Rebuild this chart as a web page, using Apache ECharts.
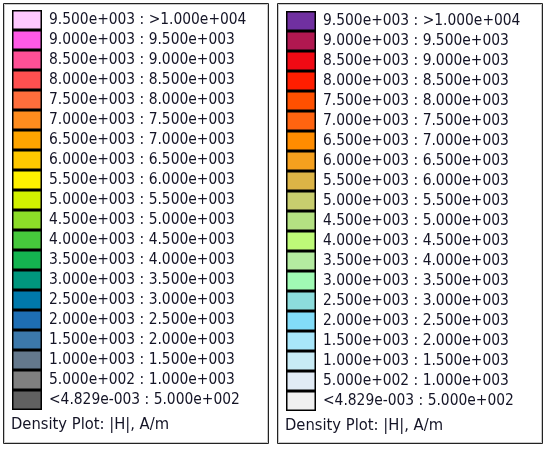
<!DOCTYPE html>
<html>
<head>
<meta charset="utf-8">
<script src="https://cdn.jsdelivr.net/npm/echarts@6/dist/echarts.min.js"></script>
<style>
html,body{margin:0;padding:0;background:#fff;}
#c{width:548px;height:452px;}
</style>
</head>
<body>
<div id="c"></div>
<script>
// Legend class bounds (top to bottom)
var lowerBounds = ['9.500e+003','9.000e+003','8.500e+003','8.000e+003','7.500e+003','7.000e+003','6.500e+003','6.000e+003','5.500e+003','5.000e+003','4.500e+003','4.000e+003','3.500e+003','3.000e+003','2.500e+003','2.000e+003','1.500e+003','1.000e+003','5.000e+002','<4.829e-003'];
var upperBounds = ['>1.000e+004','9.500e+003','9.000e+003','8.500e+003','8.000e+003','7.500e+003','7.000e+003','6.500e+003','6.000e+003','5.500e+003','5.000e+003','4.500e+003','4.000e+003','3.500e+003','3.000e+003','2.500e+003','2.000e+003','1.500e+003','1.000e+003','5.000e+002'];
var swatchValues = [1,1,1,1,1,1,1,1,1,1,1,1,1,1,1,1,1,1,1,1];
var leftColors = ['#FFC8FF','#FF5AE6','#FF5096','#FF5050','#FF6E3C','#FF8C1E','#FFA500','#FFC800','#FFF000','#D2F000','#8CDC28','#46C83C','#14B450','#00967D','#0078AA','#1E6EB4','#3C78AA','#64788C','#808080','#606060'];
var rightColors = ['#7030A0','#B01850','#F00A14','#FF1E00','#FF5000','#FF6410','#FF8C00','#F5A01E','#DCB446','#C8CD6E','#B4E182','#BEFA78','#B4EBA0','#A0FAB4','#8CDCDC','#82DCF8','#A8E6FA','#C8EBF5','#E1EBF5','#F0F0F0'];
var titleText = 'Density Plot: |H|, A/m';

var labels = lowerBounds.map(function(l,i){ return l + ' : ' + upperBounds[i]; });
var FONT = 'DejaVu Sans Condensed';
var TXT = '#141426';

function panel(idx, colors){
  return {
    type:'bar', xAxisIndex:idx, yAxisIndex:idx,
    barWidth:'100%', silent:true, animation:false,
    data: swatchValues.map(function(v,i){
      return {value:v, itemStyle:{color:colors[i], borderColor:'#000', borderWidth:1.5}};
    })
  };
}
function yAx(idx){
  return {
    type:'category', gridIndex:idx, data:labels, inverse:true, position:'right',
    axisLine:{show:false}, axisTick:{show:false}, splitLine:{show:false},
    axisLabel:{margin:7, align:'left', fontFamily:FONT, fontSize:15.4, color:TXT, interval:0}
  };
}
function xAx(idx){
  return {type:'value', gridIndex:idx, min:0, max:1, show:false};
}

var chart = echarts.init(document.getElementById('c'), null, {renderer:'canvas'});
chart.setOption({
  backgroundColor:'#fff',
  animation:false,
  grid:[
    {left:12, top:10, width:30, height:400},
    {left:286, top:11, width:30, height:400}
  ],
  xAxis:[xAx(0), xAx(1)],
  yAxis:[yAx(0), yAx(1)],
  title:[
    {text:titleText, left:11, top:417, padding:0, textStyle:{fontFamily:FONT, fontSize:16.4, fontWeight:'normal', color:TXT}},
    {text:titleText, left:285, top:418, padding:0, textStyle:{fontFamily:FONT, fontSize:16.4, fontWeight:'normal', color:TXT}}
  ],
  graphic:[
    {type:'rect', shape:{x:3.5, y:3.5, width:265, height:440}, style:{fill:null, stroke:'#222', lineWidth:1}, silent:true},
    {type:'rect', shape:{x:4.5, y:4.5, width:263, height:438}, style:{fill:null, stroke:'#c8c8c8', lineWidth:1}, silent:true},
    {type:'rect', shape:{x:277.5, y:3.5, width:265, height:440}, style:{fill:null, stroke:'#222', lineWidth:1}, silent:true},
    {type:'rect', shape:{x:278.5, y:4.5, width:263, height:438}, style:{fill:null, stroke:'#c8c8c8', lineWidth:1}, silent:true}
  ],
  series:[panel(0,leftColors), panel(1,rightColors)]
});
</script>
</body>
</html>
